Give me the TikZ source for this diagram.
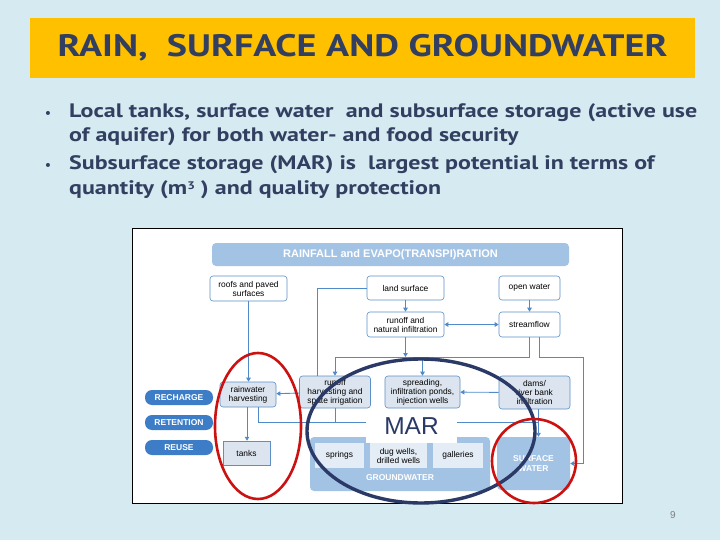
\documentclass[tikz,border=0pt]{standalone}
\usepackage{fontspec}
\setmainfont{Liberation Sans}
\newfontfamily\slidefont{PT Sans}
\usetikzlibrary{arrows.meta}

\definecolor{slidebg}{HTML}{D5EAF1}
\definecolor{titlegold}{HTML}{FFC000}
\definecolor{navy}{HTML}{323F60}
\definecolor{hdrblue}{HTML}{A3C3E5}
\definecolor{boxline}{HTML}{5C8FC6}
\definecolor{boxfill}{HTML}{DCE5EF}
\definecolor{innerfill}{HTML}{E4ECF5}
\definecolor{wireblue}{HTML}{4F8BC9}
\definecolor{pillblue}{HTML}{3D7DC8}
\definecolor{ringred}{HTML}{CC1111}
\definecolor{ringnavy}{HTML}{2A3965}

\newcommand{\wide}[1]{\scalebox{1.23}[1]{#1}}

\tikzset{
  dbox/.style={draw=boxline, line width=0.6pt, fill=white, rounded corners=3pt,
    align=center, inner sep=0pt, font=\fontsize{8.4}{9}\selectfont},
  hbox/.style={dbox, fill=boxfill},
  wellbox/.style={fill=innerfill, align=center, inner sep=0pt,
    minimum height=25pt, font=\fontsize{8.4}{9}\selectfont},
  pill/.style={fill=pillblue, rounded corners=7pt, text=white, inner sep=0pt,
    minimum width=68pt, minimum height=15pt, font=\bfseries\fontsize{8.5}{9}\selectfont},
  wire/.style={draw=wireblue, line width=0.9pt},
  arr/.style={wire, -{Triangle[length=4pt,width=4.5pt]}},
  ring/.style={line width=2.6pt},
}

\begin{document}
\begin{tikzpicture}[x=1pt,y=-1pt]
\fill[slidebg] (0,0) rectangle (720,540);
\useasboundingbox (0,0) rectangle (720,540);

% title bar and bullets
\node[fill=titlegold, minimum width=665pt, minimum height=60pt, text=navy,
  font=\slidefont\bfseries\fontsize{31}{31}\selectfont] (title) at (362.5,48) {\wide{RAIN,\ \ SURFACE AND GROUNDWATER}};
\foreach \y/\txt [count=\i] in {118/{Local tanks, surface water\ \ and subsurface storage (active use},
  142/{of aquifer) for both water- and food security},
  170/{Subsurface storage (MAR) is\ \ largest potential in terms of},
  195/{quantity (m\raisebox{5pt}{\fontsize{11}{11}\selectfont 3} ) and quality protection}}
{
  \node[anchor=base west, inner sep=0pt, text=navy, font=\slidefont\bfseries\fontsize{19.5}{24}\selectfont] (line\i) at (69,\y) {\wide{\txt}};
}
\foreach \y [count=\i] in {118,170}
{
  \node[anchor=base, inner sep=0pt, text=navy, font=\slidefont\bfseries\fontsize{13}{13}\selectfont] (dot\i) at (48,\y) {\textbullet};
}

% the diagram
\node[draw=black, line width=0.8pt, fill=white, minimum width=490pt, minimum height=275pt, inner sep=0pt] (frame) at (377,365.5) {};
\node[fill=hdrblue, rounded corners=4pt, minimum width=357pt, minimum height=23pt, inner sep=0pt, text=white,
  font=\bfseries\fontsize{11}{11}\selectfont] (rain) at (390.5,254.5) {RAINFALL and EVAPO(TRANSPI)RATION};

\node[dbox, minimum width=77pt, minimum height=25pt] (roofs) at (248.5,288.5) {roofs and paved\\surfaces};
\node[dbox, minimum width=77pt, minimum height=24pt] (land) at (405.5,288) {land surface};
\node[dbox, minimum width=61pt, minimum height=24pt] (open) at (529.5,288) {open water};
\node[dbox, minimum width=77pt, minimum height=25pt] (runoff) at (405.5,324.5) {runoff and\\natural infiltration};
\node[dbox, minimum width=61pt, minimum height=25pt] (stream) at (529.5,324.5) {streamflow};

\node[hbox, minimum width=56pt, minimum height=25pt] (rwh) at (248,394.5) {rainwater\\harvesting};
\node[hbox, minimum width=71pt, minimum height=32pt] (rhsi) at (335,392) {runoff\\harvesting and\\spate irrigation};
\node[hbox, minimum width=75pt, minimum height=32pt] (spread) at (422.5,392) {spreading,\\infiltration ponds,\\injection wells};
\node[hbox, minimum width=71pt, minimum height=33pt] (dams) at (534.5,392.5) {dams/\\river bank\\infiltration};

\foreach \y/\txt [count=\i] in {397.5/RECHARGE, 422.5/RETENTION, 447.5/REUSE}
{
  \node[pill] (use\i) at (179,\y) {\txt};
}
\node[draw=boxline, line width=0.5pt, fill=boxfill, minimum width=47pt, minimum height=24pt, inner sep=0pt,
  font=\fontsize{8.4}{9}\selectfont] (tanks) at (246.5,453) {tanks};

\node[fill=hdrblue, rounded corners=4pt, minimum width=180pt, minimum height=54pt, inner sep=0pt] (gw) at (400,464) {};
\node[text=white, inner sep=0pt, font=\bfseries\fontsize{8.5}{9}\selectfont] (gwlabel) at (400,478) {GROUNDWATER};
\node[wellbox, minimum width=49pt] (springs) at (339.5,455.5) {springs};
\node[wellbox, minimum width=57pt] (dug) at (398.5,455.5) {dug wells,\\drilled wells};
\node[wellbox, minimum width=50pt] (galleries) at (458,455.5) {galleries};
\node[fill=hdrblue, rounded corners=4pt, minimum width=73pt, minimum height=53pt, inner sep=0pt, text=white,
  align=center, font=\bfseries\fontsize{8.5}{10}\selectfont] (sw) at (533.5,463.5) {SURFACE\\WATER};

% connectors
\coordinate (lc) at (317,288);
\coordinate (hl) at (0,357);
\coordinate (bl) at (0,422);
\coordinate (rc) at (583,357);
\draw[arr] (roofs.south) -- (roofs.south |- rwh.north);
\draw[arr] ([xshift=-1pt]rwh.south) -- ([xshift=-1pt]rwh.south |- tanks.north);
\draw[wire] (land.west) -- (lc) -- (lc |- rhsi.north);
\draw[arr] (land) -- (runoff);
\draw[arr] (open) -- (stream);
\draw[arr, {Triangle[length=4pt,width=4.5pt]}-{Triangle[length=4pt,width=4.5pt]}] (runoff) -- (stream);
\draw[arr] (runoff.south) -- (runoff.south |- hl);
\draw[wire] (stream.south) |- (rhsi.north |- hl);
\foreach \n in {rhsi,spread}
{
  \draw[arr] (\n.north |- hl) -- (\n.north);
}
\draw[arr] ([xshift=10pt]stream.south) |- (rc) |- (sw.east);
\draw[arr] (dams) -- (spread);
\draw[arr] (rhsi) -- (rwh);
\draw[arr] ([xshift=4pt]dams.south) -- ([xshift=4pt]dams.south |- sw.north);
\draw[wire] ([xshift=10pt]rwh.south) |- ([xshift=4pt]dams.south |- bl);
\draw[wire] (rhsi.south) -- (rhsi.south |- bl);

% MAR label
\node[fill=white, minimum width=91pt, minimum height=33pt, inner sep=0pt, text=ringnavy,
  font=\fontsize{24.5}{25}\selectfont] (mar) at (411.5,426.5) {MAR};

% rings
\draw[ring, ringred] (258,426) ellipse [x radius=43pt, y radius=73pt];
\draw[ring, ringnavy, line width=3.4pt] (421,431) ellipse [x radius=114pt, y radius=72pt];
\draw[ring, ringred] (534,461) ellipse [x radius=42pt, y radius=42pt];

\node[text=gray, font=\fontsize{10}{10}\selectfont] (page) at (673,515) {9};
\end{tikzpicture}
\end{document}
